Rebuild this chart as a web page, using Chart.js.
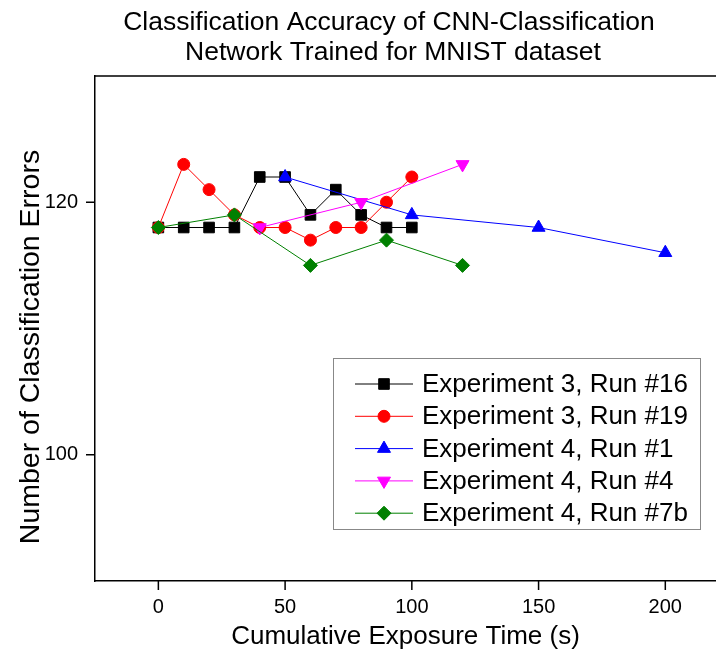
<!DOCTYPE html>
<html>
<head>
<meta charset="utf-8">
<script src="https://cdn.jsdelivr.net/npm/chart.js@4.4.0/dist/chart.umd.min.js"></script>
<style>
  html, body { margin: 0; padding: 0; background: #fff; }
  #wrap { width: 716px; height: 660px; position: relative; }
</style>
</head>
<body>
<div id="wrap"><canvas id="chart"></canvas></div>
<script>
const FONT = '"Liberation Sans", Arial, sans-serif';

const titleLines = ['Classification Accuracy of CNN-Classification', 'Network Trained for MNIST dataset'];
const xTitle = 'Cumulative Exposure Time (s)';
const yTitle = 'Number of Classification Errors';
const xTickValues = [-25, 0, 25, 50, 75, 100, 125, 150, 175, 200];
const xTickLabels = [0, 50, 100, 150, 200];
const yTickValues = [90, 100, 110, 120, 130];
const yTickLabels = [100, 120];

const seriesNames = ['Experiment 3, Run #16', 'Experiment 3, Run #19', 'Experiment 4, Run #1', 'Experiment 4, Run #4', 'Experiment 4, Run #7b'];

const timeE3R16 = [0, 10, 20, 30, 40, 50, 60, 70, 80, 90, 100];
const errE3R16  = [118, 118, 118, 118, 122, 122, 119, 121, 119, 118, 118];

const timeE3R19 = [0, 10, 20, 30, 40, 50, 60, 70, 80, 90, 100];
const errE3R19  = [118, 123, 121, 119, 118, 118, 117, 118, 118, 120, 122];

const timeE4R1 = [50, 100, 150, 200];
const errE4R1  = [122, 119, 118, 116];

const timeE4R4 = [40, 80, 120];
const errE4R4  = [118, 120, 123];

const timeE4R7b = [0, 30, 60, 90, 120];
const errE4R7b  = [118, 119, 115, 117, 115];

const toPoints = (xs, ys) => xs.map((x, i) => ({ x: x, y: ys[i] }));

function makeSet(i, xs, ys, color, style, radius, rotation) {
    return {
        label: seriesNames[i],
        data: toPoints(xs, ys),
        showLine: true,
        borderColor: color,
        borderWidth: 1,
        backgroundColor: color,
        pointStyle: style,
        pointRadius: radius,
        pointRotation: rotation || 0,
        pointBackgroundColor: color,
        pointBorderColor: color,
        pointBorderWidth: 1,
        order: 5 - i   // later series sit on top, like the original
    };
}

// top frame line, outward ticks, title, y title and the boxed legend
const extras = {
    id: 'extras',
    afterDraw(chart) {
        const ctx = chart.ctx;
        const area = chart.chartArea;
        const xs = chart.scales.x, ys = chart.scales.y;
        ctx.save();

        ctx.strokeStyle = '#000';
        ctx.lineWidth = 1.5;
        ctx.beginPath();
        ctx.moveTo(area.left, area.top);
        ctx.lineTo(area.right, area.top);
        xs.ticks.forEach(t => {
            const px = xs.getPixelForValue(t.value);
            const len = xTickLabels.includes(t.value) ? 9 : 5;
            ctx.moveTo(px, area.bottom);
            ctx.lineTo(px, area.bottom + len);
        });
        ys.ticks.forEach(t => {
            const py = ys.getPixelForValue(t.value);
            const len = yTickLabels.includes(t.value) ? 9 : 5;
            ctx.moveTo(area.left - len, py);
            ctx.lineTo(area.left, py);
        });
        ctx.stroke();

        // title
        ctx.fillStyle = '#000';
        ctx.font = '26.5px ' + FONT;
        ctx.textAlign = 'center';
        ctx.textBaseline = 'middle';
        ctx.fillText(titleLines[0], 389, 23);
        ctx.fillText(titleLines[1], 393, 53);

        // y axis title
        ctx.save();
        ctx.translate(31, 347);
        ctx.rotate(-Math.PI / 2);
        ctx.font = '28.5px ' + FONT;
        ctx.fillText(yTitle, 0, 0);
        ctx.restore();

        // legend
        const bx = 333, by = 358, bw = 367, bh = 171;
        ctx.fillStyle = '#fff';
        ctx.fillRect(bx, by, bw, bh);
        ctx.strokeStyle = '#888';
        ctx.lineWidth = 1;
        ctx.strokeRect(bx + 0.5, by + 0.5, bw, bh);

        ctx.font = '26px ' + FONT;
        ctx.textAlign = 'left';
        chart.data.datasets.forEach((ds, i) => {
            const rowY = 384 + i * 32.3;
            ctx.strokeStyle = ds.borderColor;
            ctx.lineWidth = 1;
            ctx.beginPath();
            ctx.moveTo(355, rowY);
            ctx.lineTo(413, rowY);
            ctx.stroke();
            ctx.fillStyle = ds.pointBackgroundColor;
            ctx.strokeStyle = ds.pointBorderColor;
            Chart.helpers.drawPoint(ctx, {
                pointStyle: ds.pointStyle,
                radius: ds.pointRadius,
                rotation: ds.pointRotation,
                borderWidth: 1
            }, 384, rowY);
            ctx.fillStyle = '#000';
            ctx.fillText(ds.label, 422, rowY + 1);
        });

        ctx.restore();
    }
};

const ctx = document.getElementById('chart');
new Chart(ctx, {
    type: 'scatter',
    data: {
        datasets: [
            makeSet(0, timeE3R16, errE3R16, '#000000', 'rect', 7.5),
            makeSet(1, timeE3R19, errE3R19, '#ff0000', 'circle', 6),
            makeSet(2, timeE4R1, errE4R1, '#0000ff', 'triangle', 7.5),
            makeSet(3, timeE4R4, errE4R4, '#ff00ff', 'triangle', 7.5, 180),
            makeSet(4, timeE4R7b, errE4R7b, '#008000', 'rectRot', 7)
        ]
    },
    options: {
        responsive: true,
        maintainAspectRatio: false,
        animation: false,
        layout: { autoPadding: false, padding: { top: 76, left: 0, right: 0, bottom: 0 } },
        plugins: {
            legend: { display: false },
            tooltip: { enabled: false },
            title: { display: false }
        },
        scales: {
            x: {
                type: 'linear',
                min: -25,
                max: 220,
                grid: { display: false, drawTicks: false },
                border: { display: true, color: '#000', width: 1.5 },
                afterBuildTicks: s => { s.ticks = xTickValues.map(v => ({ value: v })); },
                ticks: {
                    autoSkip: false,
                    maxRotation: 0,
                    padding: 14,
                    color: '#000',
                    font: { family: FONT, size: 20 },
                    callback: v => xTickLabels.includes(v) ? String(v) : null
                },
                title: {
                    display: true,
                    text: xTitle,
                    color: '#000',
                    font: { family: FONT, size: 26 },
                    padding: { top: 0, bottom: 8 }
                },
                afterFit: s => { s.height = 79; s.paddingLeft = 0; s.paddingRight = 0; }
            },
            y: {
                type: 'linear',
                min: 90,
                max: 130,
                grid: { display: false, drawTicks: false },
                border: { display: true, color: '#000', width: 1.5 },
                afterBuildTicks: s => { s.ticks = yTickValues.map(v => ({ value: v })); },
                ticks: {
                    padding: 17,
                    color: '#000',
                    font: { family: FONT, size: 20 },
                    callback: v => yTickLabels.includes(v) ? String(v) : null
                },
                afterFit: s => { s.width = 95; s.paddingTop = 0; s.paddingBottom = 0; }
            }
        }
    },
    plugins: [extras]
});
</script>
</body>
</html>
